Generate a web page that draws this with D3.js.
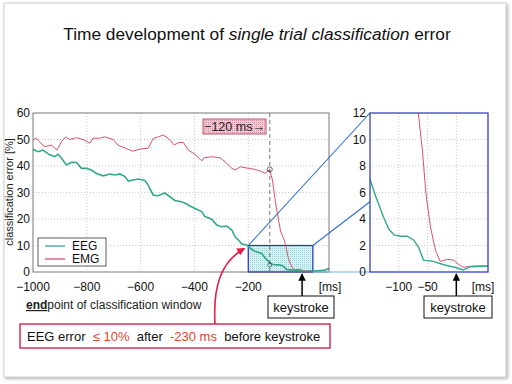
<!DOCTYPE html>
<html>
<head>
<meta charset="utf-8">
<script src="https://cdn.jsdelivr.net/npm/d3@7"></script>
<style>
  html, body { margin: 0; padding: 0; background: #fff; }
  svg { display: block; font-family: "Liberation Sans", Arial, sans-serif; }
</style>
</head>
<body>
<div id="chart"></div>
<script>
// EEG / EMG single-trial classification error vs. end of window (ms)
var eegT = [-1000, -981, -963, -938, -919, -907, -894, -876, -857, -838, -820, -801,
  -783, -764, -739, -714, -696, -677, -658, -646, -628, -609, -584, -572, -553,
  -535, -510, -491, -473, -448, -429, -417, -392, -373, -361, -336, -317, -299,
  -280, -261, -249, -236, -224, -206, -187, -170, -150, -140, -126, -117, -108,
  -96, -85, -74, -66, -57, -40, -22, 2, 12, 24, 55, 80, 100];
var eegV = [46.3, 45.4, 46, 44.2, 43.5, 44.4, 42.9, 40.4, 41.4, 41.3, 39.1, 39.1,
  38.5, 37.2, 36.3, 37, 36.6, 37, 36, 34.3, 34.7, 35.1, 34.5, 32.8, 29,
  28.8, 29.8, 28.4, 27, 26.5, 25.7, 24.9, 23.7, 22.8, 20.9, 19.9, 17.7, 17.1,
  17.3, 15.8, 13.3, 12, 10.6, 10.2, 8.5, 7.6, 7, 5.7, 4.1, 3.2, 2.8,
  2.7, 2.7, 2.4, 1.9, 0.9, 0.8, 0.55, 0.3, 0.15, 0.4, 0.45, 0.6, 1.3];

var emgT = [-1000, -988, -975, -956, -931, -911, -894, -879, -863, -838, -814, -789,
  -777, -752, -733, -702, -684, -659, -629, -603, -572, -553, -535, -516, -497,
  -475, -460, -441, -423, -398, -373, -364, -336, -305, -286, -261, -249, -230,
  -199, -174, -149, -137, -121, -110, -100, -90, -80, -70, -66, -59, -53, -45,
  -36, -28, -16, -5, 3, 12, 29, 55, 80, 100];
var emgV = [49.8, 50.5, 49, 47.3, 47.9, 46, 49.2, 51, 50, 50.7, 50, 48.6,
  50.5, 50.5, 51, 50, 47.9, 46.8, 45.6, 46.4, 46.7, 50.4, 51, 51.7, 50.4,
  47.9, 48.8, 48.9, 46, 44.4, 41.9, 43.1, 43.5, 43.1, 41.6, 39.1, 38.5, 39.7,
  39.1, 38.7, 37.9, 37.2, 38.7, 34.7, 27, 21, 15.5, 12.8, 12, 9.2, 6, 3.4,
  1.6, 0.8, 0.95, 0.9, 0.6, 0.35, 0.45, 0.45, 0.6, 1.2];

var mainXTicks = [-1000, -800, -600, -400, -200];
var mainYTicks = [0, 10, 20, 30, 40, 50, 60];
var insetXTicks = [-100, -50];
var insetYTicks = [0, 2, 4, 6, 8, 10, 12];
var zoomWin = [-200, 40];     // ms range of the highlighted window
var zoomMax = 10;             // % top of highlighted window
var markT = -120;             // dashed marker
var EEG_C = "#35a88a", EMG_C = "#d9506f";

var W = 512, H = 384;
var svg = d3.select("#chart").append("svg")
  .attr("width", W).attr("height", H);
var defs = svg.append("defs");

// slide frame with soft shadow
var sh = defs.append("filter").attr("id", "shadow")
  .attr("x", "-5%").attr("y", "-5%").attr("width", "110%").attr("height", "110%");
sh.append("feDropShadow").attr("dx", 1.5).attr("dy", 1.5)
  .attr("stdDeviation", 1.5).attr("flood-color", "#888").attr("flood-opacity", 0.6);
svg.append("rect").attr("x", 4).attr("y", 3).attr("width", 502).attr("height", 374)
  .attr("fill", "#fff").attr("stroke", "#d0d0d0").attr("filter", "url(#shadow)");

// dotted fills
var p1 = defs.append("pattern").attr("id", "cyanDots")
  .attr("width", 2).attr("height", 2).attr("patternUnits", "userSpaceOnUse");
p1.append("rect").attr("width", 2).attr("height", 2).attr("fill", "#d6f0f3");
p1.append("rect").attr("width", 1).attr("height", 1).attr("fill", "#9fd3dc");
var p2 = defs.append("pattern").attr("id", "pinkDots")
  .attr("width", 2).attr("height", 2).attr("patternUnits", "userSpaceOnUse");
p2.append("rect").attr("width", 2).attr("height", 2).attr("fill", "#f2c9d4");
p2.append("rect").attr("width", 1).attr("height", 1).attr("fill", "#d88ea3");

// title
var title = svg.append("text").attr("x", 257).attr("y", 40)
  .attr("text-anchor", "middle").attr("font-size", 17.3).attr("fill", "#111");
title.append("tspan").text("Time development of ");
title.append("tspan").attr("font-style", "italic").text("single trial classification");
title.append("tspan").text(" error");

// ---- main plot
var x = d3.scaleLinear().domain([-1000, 100]).range([33, 329]);
var y = d3.scaleLinear().domain([0, 60]).range([272, 113]);

var gMain = svg.append("g");
gMain.append("rect").attr("x", 33).attr("y", 113).attr("width", 296).attr("height", 159)
  .attr("fill", "#fff");
gMain.selectAll("line.vg").data(mainXTicks.slice(1)).join("line")
  .attr("x1", x).attr("x2", x).attr("y1", 113).attr("y2", 272)
  .attr("stroke", "#bbb").attr("stroke-width", 0.8).attr("stroke-dasharray", "1,2");
gMain.selectAll("line.hg").data(mainYTicks.slice(1, -1)).join("line")
  .attr("x1", 33).attr("x2", 329).attr("y1", y).attr("y2", y)
  .attr("stroke", "#bbb").attr("stroke-width", 0.8).attr("stroke-dasharray", "1,2");

// highlighted window
gMain.append("rect")
  .attr("x", x(zoomWin[0])).attr("y", y(zoomMax))
  .attr("width", x(zoomWin[1]) - x(zoomWin[0])).attr("height", y(0) - y(zoomMax))
  .attr("fill", "url(#cyanDots)").attr("stroke", "#2330c0").attr("stroke-width", 1.2);

defs.append("clipPath").attr("id", "clipMain").append("rect")
  .attr("x", 33).attr("y", 113).attr("width", 296).attr("height", 159);
var lineMain = d3.line().x(function (d) { return x(d[0]); }).y(function (d) { return y(d[1]); });
var eegData = eegT.map(function (t, i) { return [t, eegV[i]]; });
var emgData = emgT.map(function (t, i) { return [t, emgV[i]]; });
var lines = gMain.append("g").attr("clip-path", "url(#clipMain)");
lines.append("path").attr("d", lineMain(emgData)).attr("fill", "none")
  .attr("stroke", EMG_C).attr("stroke-width", 1);
lines.append("path").attr("d", lineMain(eegData)).attr("fill", "none")
  .attr("stroke", EEG_C).attr("stroke-width", 1.6);

// -120 ms marker
gMain.append("line").attr("x1", x(markT)).attr("x2", x(markT))
  .attr("y1", 113).attr("y2", 272).attr("stroke", "#555")
  .attr("stroke-width", 0.8).attr("stroke-dasharray", "4,3");
gMain.append("circle").attr("cx", x(markT)).attr("cy", y(38.7)).attr("r", 2.5)
  .attr("fill", "none").attr("stroke", "#444").attr("stroke-width", 0.8);
gMain.append("circle").attr("cx", x(markT)).attr("cy", y(2.7)).attr("r", 2)
  .attr("fill", "none").attr("stroke", "#444").attr("stroke-width", 0.7);

gMain.append("rect").attr("x", 33).attr("y", 113).attr("width", 296).attr("height", 159)
  .attr("fill", "none").attr("stroke", "#555").attr("stroke-width", 0.8);

gMain.selectAll("text.yt").data(mainYTicks).join("text")
  .attr("x", 30).attr("y", function (d) { return y(d) + 4; })
  .attr("text-anchor", "end").attr("font-size", 12).attr("fill", "#111").text(String);
gMain.selectAll("text.xt").data(mainXTicks).join("text")
  .attr("x", x).attr("y", 291).attr("text-anchor", "middle")
  .attr("font-size", 12).attr("fill", "#111")
  .text(function (d) { return d3.format("")(d).replace("-", "\u2212"); });
gMain.append("text").attr("x", 330).attr("y", 291).attr("text-anchor", "middle")
  .attr("font-size", 12).attr("fill", "#111").text("[ms]");
gMain.append("text").attr("transform", "translate(13,192) rotate(-90)")
  .attr("text-anchor", "middle").attr("font-size", 11).attr("fill", "#222")
  .text("classification error [%]");

// legend
var leg = gMain.append("g");
leg.append("rect").attr("x", 38).attr("y", 238).attr("width", 68).attr("height", 28)
  .attr("fill", "#fff").attr("stroke", "#333").attr("stroke-width", 0.8);
[["EEG", EEG_C, 246], ["EMG", EMG_C, 259]].forEach(function (e) {
  leg.append("line").attr("x1", 45).attr("x2", 65).attr("y1", e[2]).attr("y2", e[2])
    .attr("stroke", e[1]).attr("stroke-width", 1.3);
  leg.append("text").attr("x", 72).attr("y", e[2] + 4).attr("font-size", 12)
    .attr("fill", "#111").text(e[0]);
});

// -120 ms label
gMain.append("rect").attr("x", 203).attr("y", 119).attr("width", 63).attr("height", 15)
  .attr("fill", "url(#pinkDots)").attr("stroke", "#a8324f").attr("stroke-width", 0.8);
gMain.append("text").attr("x", 234.5).attr("y", 131).attr("text-anchor", "middle")
  .attr("font-size", 12.5).attr("fill", "#222").text("\u2212120 ms\u2192");

// ---- inset
var xi = d3.scaleLinear().domain([-150, 55]).range([370, 488]);
var yi = d3.scaleLinear().domain([0, 12]).range([272, 113]);

// connectors
var conn = svg.append("g").attr("stroke", "#2f6fd0").attr("stroke-width", 1.1);
conn.append("line").attr("x1", x(zoomWin[0])).attr("y1", y(zoomMax))
  .attr("x2", 370).attr("y2", 113);
conn.append("line").attr("x1", x(zoomWin[1])).attr("y1", y(zoomMax))
  .attr("x2", 370).attr("y2", yi(5.3));
conn.append("line").attr("x1", x(zoomWin[1])).attr("y1", y(0))
  .attr("x2", 370).attr("y2", yi(0)).attr("stroke", "#6fb0e0");

var gIn = svg.append("g");
gIn.append("rect").attr("x", 370).attr("y", 113).attr("width", 118).attr("height", 159)
  .attr("fill", "#fff");
gIn.selectAll("line.vg").data([-100, -50, 0]).join("line")
  .attr("x1", xi).attr("x2", xi).attr("y1", 113).attr("y2", 272)
  .attr("stroke", "#bbb").attr("stroke-width", 0.8).attr("stroke-dasharray", "1,2");
gIn.selectAll("line.hg").data(insetYTicks.slice(1, -1)).join("line")
  .attr("x1", 370).attr("x2", 488).attr("y1", yi).attr("y2", yi)
  .attr("stroke", "#bbb").attr("stroke-width", 0.8).attr("stroke-dasharray", "1,2");
defs.append("clipPath").attr("id", "clipIn").append("rect")
  .attr("x", 370).attr("y", 113).attr("width", 118).attr("height", 159);
var lineIn = d3.line().x(function (d) { return xi(d[0]); }).y(function (d) { return yi(d[1]); });
var li = gIn.append("g").attr("clip-path", "url(#clipIn)");
li.append("path").attr("d", lineIn(emgData)).attr("fill", "none")
  .attr("stroke", EMG_C).attr("stroke-width", 1);
li.append("path").attr("d", lineIn(eegData)).attr("fill", "none")
  .attr("stroke", EEG_C).attr("stroke-width", 1.4);
gIn.append("rect").attr("x", 370).attr("y", 113).attr("width", 118).attr("height", 159)
  .attr("fill", "none").attr("stroke", "#2330c0").attr("stroke-width", 1.2);
gIn.selectAll("text.yt").data(insetYTicks).join("text")
  .attr("x", 366).attr("y", function (d) { return yi(d) + 4; })
  .attr("text-anchor", "end").attr("font-size", 12).attr("fill", "#111").text(String);
gIn.selectAll("text.xt").data(insetXTicks).join("text")
  .attr("x", xi).attr("y", 291).attr("text-anchor", "middle")
  .attr("font-size", 12).attr("fill", "#111")
  .text(function (d) { return String(d).replace("-", "\u2212"); });
gIn.append("text").attr("x", 483).attr("y", 291).attr("text-anchor", "middle")
  .attr("font-size", 12).attr("fill", "#111").text("[ms]");

// ---- keystroke annotations
defs.append("marker").attr("id", "arrK").attr("viewBox", "0 0 10 10")
  .attr("refX", 9).attr("refY", 5).attr("markerWidth", 5).attr("markerHeight", 5)
  .attr("orient", "auto").append("path").attr("d", "M0,0L10,5L0,10z").attr("fill", "#000");
[[x(0), 268, 66], [xi(0), 424, 68]].forEach(function (k) {
  svg.append("line").attr("x1", k[0]).attr("x2", k[0]).attr("y1", 296).attr("y2", 274)
    .attr("stroke", "#000").attr("stroke-width", 1.5).attr("marker-end", "url(#arrK)");
  svg.append("rect").attr("x", k[1]).attr("y", 296).attr("width", k[2]).attr("height", 22)
    .attr("fill", "#fff").attr("stroke", "#111").attr("stroke-width", 1);
  svg.append("text").attr("x", k[1] + k[2] / 2).attr("y", 312).attr("text-anchor", "middle")
    .attr("font-size", 13).attr("fill", "#111").text("keystroke");
});

// endpoint note
var ep = svg.append("text").attr("x", 26).attr("y", 309).attr("font-size", 12).attr("fill", "#222");
ep.append("tspan").attr("font-weight", "bold").attr("text-decoration", "underline").text("end");
ep.append("tspan").text("point of classification window");

// red callout
defs.append("marker").attr("id", "arrR").attr("viewBox", "0 0 10 10")
  .attr("refX", 9).attr("refY", 5).attr("markerWidth", 5).attr("markerHeight", 5)
  .attr("orient", "auto").append("path").attr("d", "M0,0L10,5L0,10z").attr("fill", "#e0204a");
svg.append("path").attr("d", "M215,324 C213,288 220,262 " + (x(-214)) + "," + (y(10) + 3))
  .attr("fill", "none").attr("stroke", "#e0204a").attr("stroke-width", 1.6)
  .attr("marker-end", "url(#arrR)");
svg.append("rect").attr("x", 20).attr("y", 324).attr("width", 310).attr("height", 24)
  .attr("fill", "#fff").attr("stroke", "#d6204c").attr("stroke-width", 1.4);
var note = svg.append("text").attr("x", 27).attr("y", 341).attr("font-size", 13)
  .attr("fill", "#111").attr("xml:space", "preserve");
note.append("tspan").text("EEG error  ");
note.append("tspan").attr("fill", "#e0452f").text("\u2264 10%");
note.append("tspan").text("  after  ");
note.append("tspan").attr("fill", "#e0452f").text("-230 ms");
note.append("tspan").text("  before keystroke");
</script>
</body>
</html>
